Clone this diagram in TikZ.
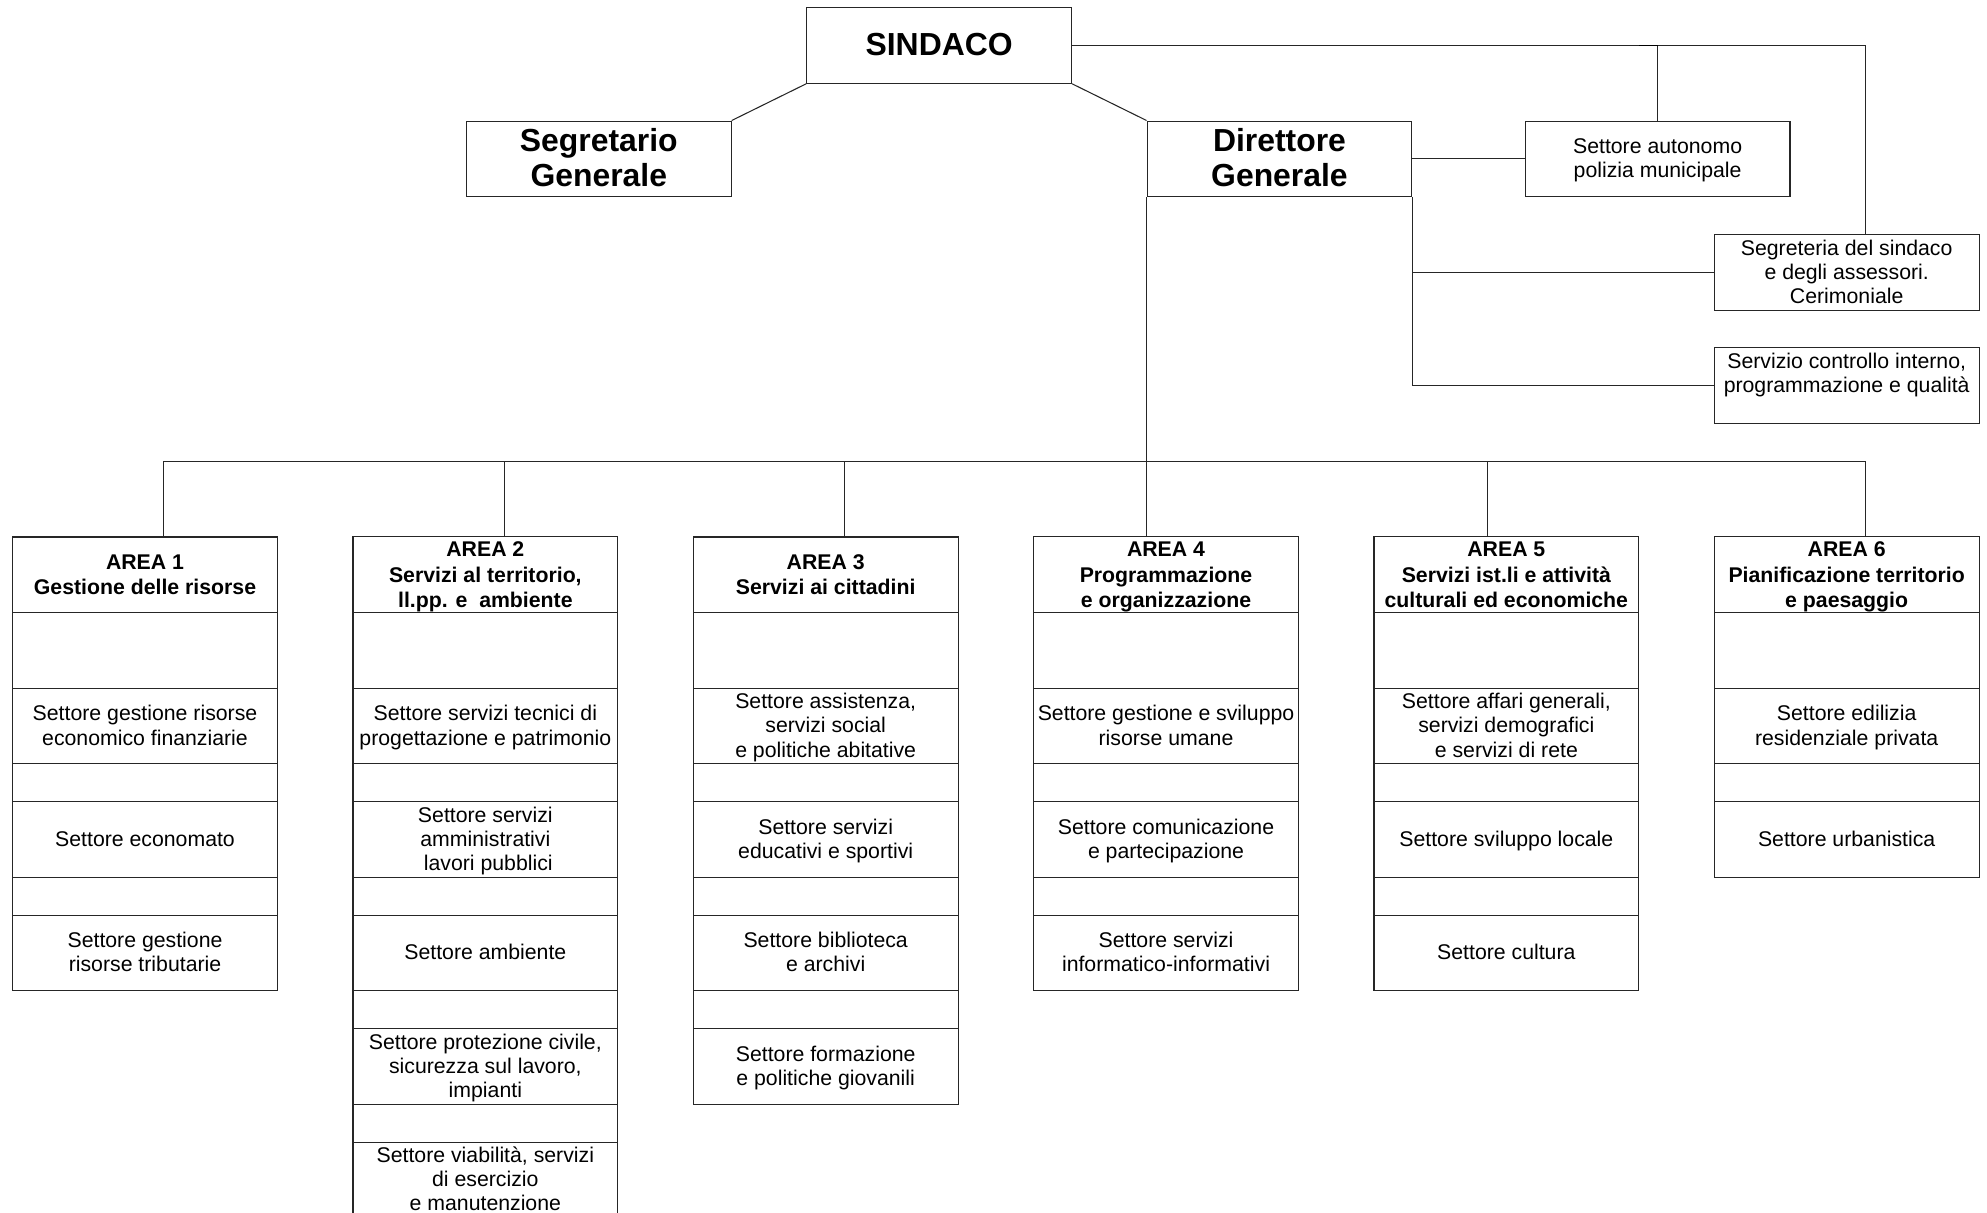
\documentclass[tikz,border=0pt]{standalone}
\usepackage{fontspec}
\setmainfont{Liberation Sans}
\newcommand\wstrut{\vrule width 0pt height 0.787\baselineskip depth 0.213\baselineskip}
\newcommand\T[1]{\wstrut#1\wstrut}
\begin{document}
\begin{tikzpicture}[x=1cm,y=-1cm,
  line width=0.8pt,
  box/.style={draw=black!85, minimum width=7cm, minimum height=2cm, inner sep=0pt, align=center,
              font=\fontsize{16}{18.1}\selectfont},
  hbox/.style={box, font=\fontsize{16}{19}\selectfont\bfseries},
  bigbox/.style={box, font=\fontsize{24}{26.7}\selectfont\bfseries},
  gapbox/.style={draw=black!85, minimum width=7cm, minimum height=1cm, inner sep=0pt},
  txt/.style={align=center, inner sep=0pt, font=\fontsize{16}{18.1}\selectfont},
  link/.style={draw=black!85, line width=0.8pt}
]
\useasboundingbox (-0.335,-0.201) rectangle (52.211,31.87);

% ---- top level ----
\node[bigbox] (sindaco) at (24.5,1) {\T{SINDACO}};
\node[bigbox] (segr) at (15.5,4) {\T{Segretario\\Generale}};
\node[bigbox] (dir) at (33.5,4) {\T{Direttore\\Generale}};
\node[box] (pm) at (43.5,4) {\T{Settore autonomo\\polizia municipale}};
\node[box] (segs) at (48.5,7) {\T{Segreteria del sindaco\\e degli assessori.\\Cerimoniale}};
\node[box] (sci) at (48.5,10) {};
\node[txt] (scit) at (48.5,9.67) {\T{Servizio controllo interno,\\programmazione e qualità}};

% ---- AREA 1 ----
\node[hbox] (a1h) at (3.5,15) {\T{AREA 1\\Gestione delle risorse}};
\node[box] (a1b) at (3.5,17) {};
\node[box] (a1s1) at (3.5,19) {\T{Settore gestione risorse\\economico finanziarie}};
\node[gapbox] (a1g1) at (3.5,20.5) {};
\node[box] (a1s2) at (3.5,22) {\T{Settore economato}};
\node[gapbox] (a1g2) at (3.5,23.5) {};
\node[box] (a1s3) at (3.5,25) {\T{Settore gestione\\risorse tributarie}};

% ---- AREA 2 ----
\node[hbox] (a2h) at (12.5,15) {\T{AREA 2\\Servizi al territorio,\\ll.pp. e\ \ ambiente}};
\node[box] (a2b) at (12.5,17) {};
\node[box] (a2s1) at (12.5,19) {\T{Settore servizi tecnici di\\progettazione e patrimonio}};
\node[gapbox] (a2g1) at (12.5,20.5) {};
\node[box] (a2s2) at (12.5,22) {\T{Settore servizi\\amministrativi\\\ lavori pubblici}};
\node[gapbox] (a2g2) at (12.5,23.5) {};
\node[box] (a2s3) at (12.5,25) {\T{Settore ambiente}};
\node[gapbox] (a2g3) at (12.5,26.5) {};
\node[box] (a2s4) at (12.5,28) {\T{Settore protezione civile,\\sicurezza sul lavoro,\\impianti}};
\node[gapbox] (a2g4) at (12.5,29.5) {};
\node[box] (a2s5) at (12.5,31) {\T{Settore viabilità, servizi\\di esercizio\\e manutenzione}};

% ---- AREA 3 ----
\node[hbox] (a3h) at (21.5,15) {\T{AREA 3\\Servizi ai cittadini}};
\node[box] (a3b) at (21.5,17) {};
\node[box] (a3s1) at (21.5,19) {\T{Settore assistenza,\\servizi social\\e politiche abitative}};
\node[gapbox] (a3g1) at (21.5,20.5) {};
\node[box] (a3s2) at (21.5,22) {\T{Settore servizi\\educativi e sportivi}};
\node[gapbox] (a3g2) at (21.5,23.5) {};
\node[box] (a3s3) at (21.5,25) {\T{Settore biblioteca\\e archivi}};
\node[gapbox] (a3g3) at (21.5,26.5) {};
\node[box] (a3s4) at (21.5,28) {\T{Settore formazione\\e politiche giovanili}};

% ---- AREA 4 ----
\node[hbox] (a4h) at (30.5,15) {\T{AREA 4\\Programmazione\\e organizzazione}};
\node[box] (a4b) at (30.5,17) {};
\node[box] (a4s1) at (30.5,19) {\T{Settore gestione e sviluppo\\risorse umane}};
\node[gapbox] (a4g1) at (30.5,20.5) {};
\node[box] (a4s2) at (30.5,22) {\T{Settore comunicazione\\e partecipazione}};
\node[gapbox] (a4g2) at (30.5,23.5) {};
\node[box] (a4s3) at (30.5,25) {\T{Settore servizi\\informatico-informativi}};

% ---- AREA 5 ----
\node[hbox] (a5h) at (39.5,15) {\T{AREA 5\\Servizi ist.li e attività\\culturali ed economiche}};
\node[box] (a5b) at (39.5,17) {};
\node[box] (a5s1) at (39.5,19) {\T{Settore affari generali,\\servizi demografici\\e servizi di rete}};
\node[gapbox] (a5g1) at (39.5,20.5) {};
\node[box] (a5s2) at (39.5,22) {\T{Settore sviluppo locale}};
\node[gapbox] (a5g2) at (39.5,23.5) {};
\node[box] (a5s3) at (39.5,25) {\T{Settore cultura}};

% ---- AREA 6 ----
\node[hbox] (a6h) at (48.5,15) {\T{AREA 6\\Pianificazione territorio\\e paesaggio}};
\node[box] (a6b) at (48.5,17) {};
\node[box] (a6s1) at (48.5,19) {\T{Settore edilizia\\residenziale privata}};
\node[gapbox] (a6g1) at (48.5,20.5) {};
\node[box] (a6s2) at (48.5,22) {\T{Settore urbanistica}};

% ---- connectors ----
\coordinate (segsin) at (49,6);
\coordinate (busL) at (4,12);
\coordinate (busR) at (49,12);

\draw[link] (sindaco.east) -| (segsin);
\draw[link] (pm.north) -- (pm.north |- sindaco.east);
\draw[link, draw=black, line width=1.1pt] (pm.north |- sindaco.east) -- ++(-0.5,0);
\draw[link] (sindaco.south west) -- (segr.north east);
\draw[link] (sindaco.south east) -- (dir.north west);
\draw[link] (dir.east) -- (pm.west);
\draw[link] (dir.south east) |- (sci.west);
\draw[link] (dir.south east |- segs.west) -- (segs.west);
\draw[link] (dir.south west) -- (dir.south west |- a4h.north);
\draw[link] (busL) -- (busR);
\draw[link] ([xshift=0.5cm]a1h.north) -- ([xshift=0.5cm]a1h.north |- busL);
\draw[link] ([xshift=0.5cm]a2h.north) -- ([xshift=0.5cm]a2h.north |- busL);
\draw[link] ([xshift=0.5cm]a3h.north) -- ([xshift=0.5cm]a3h.north |- busL);
\draw[link] ([xshift=-0.5cm]a5h.north) -- ([xshift=-0.5cm]a5h.north |- busL);
\draw[link] ([xshift=0.5cm]a6h.north) -- ([xshift=0.5cm]a6h.north |- busL);
\end{tikzpicture}
\end{document}
